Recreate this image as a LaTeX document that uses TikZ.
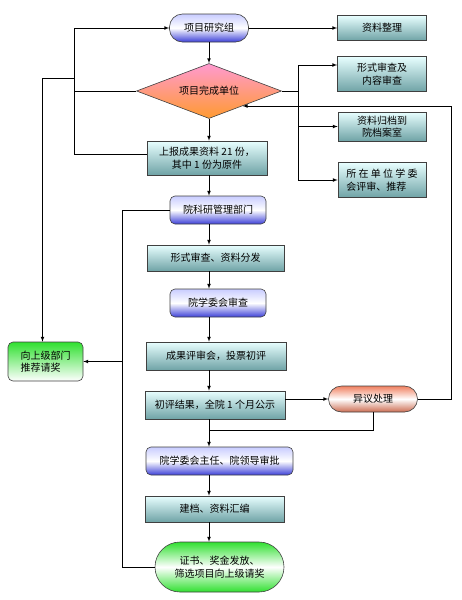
\documentclass[tikz,border=0pt]{standalone}
\usepackage{fontspec}
\setmainfont{Noto Sans CJK SC}
\usetikzlibrary{shapes.geometric}

\definecolor{boxtop}{HTML}{E8FFFF}
\definecolor{boxbot}{HTML}{6FA3A6}
\definecolor{bluetop}{HTML}{C8CCFF}
\definecolor{bluebot}{HTML}{3C40D8}
\definecolor{greenend}{HTML}{30E030}
\definecolor{salmon}{HTML}{F08060}
\definecolor{pinktop}{HTML}{FF9AD0}
\definecolor{orangebot}{HTML}{FF9A30}

\begin{document}
\begin{tikzpicture}[x=1pt, y=-1pt, font=\fontsize{10}{12.5}\selectfont,
    box/.style={draw=black!75, line width=0.6pt, top color=boxtop, bottom color=boxbot,
        inner sep=1pt, align=center},
    bluebox/.style={draw=black!75, line width=0.6pt, top color=bluetop, bottom color=bluebot,
        middle color=white, inner sep=1pt, align=center},
    decision/.style={diamond, draw=black!75, line width=0.6pt, top color=pinktop,
        bottom color=orangebot, inner sep=0pt, aspect=2.6},
    arr/.style={-latex, line width=0.7pt},
    line/.style={line width=0.7pt}]

    \useasboundingbox (0,0) rectangle (462,600);

    % top part
    \node [bluebox, rounded corners=13pt, minimum width=79, minimum height=28] (yjz) at (209,28) {项目研究组};
    \node [box, minimum width=89, minimum height=25] (zlzl) at (382,28) {资料整理};
    \node [decision, minimum width=145, minimum height=55] (xmwc) at (209,91) {项目完成单位};

    \node [box, minimum width=89, minimum height=35] (xsnr) at (382,74) {形式审查及\\内容审查};
    \node [box, minimum width=88, minimum height=29] (zlgd) at (382,126.5) {资料归档到\\院档案室};
    \node [box, minimum width=88, minimum height=35, align=left] (szdw) at (382,180) {所 在 单 位 学 委\\会评审、推荐};

    \node [box, minimum width=120, minimum height=34] (sb) at (207,158) {上报成果资料 21 份，\\其中 1 份为原件};

    % main column
    \coordinate (col) at (209,0);
    \node [bluebox, rounded corners=5pt, minimum width=96, minimum height=28] (ky) at (218,210) {院科研管理部门};
    \node [box, minimum width=137, minimum height=26] (xs) at (215.5,258) {形式审查、资料分发};
    \node [bluebox, rounded corners=5pt, minimum width=96, minimum height=28] (xwh) at (218,303) {院学委会审查};
    \node [box, minimum width=140, minimum height=28] (cg) at (216,356) {成果评审会，投票初评};
    \node [box, minimum width=140, minimum height=28] (cp) at (215,405) {初评结果，全院 1 个月公示};
    \node [draw=black!75, line width=0.6pt, rounded corners=13pt, top color=salmon,
        bottom color=salmon!85!black, middle color=white, minimum width=89, minimum height=26] (yy) at (373,399) {异议处理};
    \node [bluebox, rounded corners=5pt, minimum width=147, minimum height=28] (zr) at (219.5,461) {院学委会主任、院领导审批};
    \node [box, minimum width=139, minimum height=26] (jd) at (214.5,509) {建档、资料汇编};
    \node [draw=black!75, line width=0.6pt, rounded corners=25pt, top color=greenend,
        bottom color=greenend, middle color=white, align=center, minimum width=129,
        minimum height=50] (zs) at (219.5,567) {证书、奖金发放、\\筛选项目向上级请奖};

    % left box
    \node [draw=black!75, line width=0.6pt, rounded corners=5pt, top color=greenend,
        bottom color=white, align=left, minimum width=75, minimum height=39] (xsj) at (45.5,361.5) {向上级部门\\推荐请奖};

    % arrows of the column
    \draw[arr] (yjz) -- (zlzl);
    \draw[arr] (yjz) -- (xmwc);
    \draw[arr] (col |- xmwc.south) -- (col |- sb.north);
    \draw[arr] (col |- sb.south) -- (col |- ky.north);
    \draw[arr] (col |- ky.south) -- (col |- xs.north);
    \draw[arr] (col |- xs.south) -- (col |- xwh.north);
    \draw[arr] (col |- xwh.south) -- (col |- cg.north);
    \draw[arr] (col |- cg.south) -- (col |- cp.north);
    \draw[arr] (col |- cp.south) -- (col |- zr.north);
    \draw[arr] (col |- zr.south) -- (col |- jd.north);
    \draw[arr] (col |- jd.south) -- (col |- zs.north);

    % branch to the right boxes
    \coordinate (br) at (298,91);
    \draw[line] (xmwc.east) -- (br);
    \draw[arr] (br) |- ([yshift=9pt]xsnr.west);
    \draw[arr] (br) |- (zlgd.west);
    \draw[arr] (br) |- (szdw.west);

    % objection
    \coordinate (jn) at (209,430);
    \coordinate (fb) at (451,106);
    \draw[arr] (cp.east |- yy.west) -- (yy.west);
    \draw[line] (yy.south) |- (jn);
    \draw[arr] (yy.east) -| (fb) -- (fb -| xmwc.-24);

    % left lines
    \coordinate (lx) at (74,0);
    \coordinate (lb) at (74,78);
    \draw[arr] ([yshift=4pt]sb.west) -| (lx |- yjz.west) -- (yjz.west);
    \draw[line] (xmwc.west) -- (lx |- xmwc.west);
    \draw[arr] (lb) -| ([xshift=-3pt]xsj.north);

    \coordinate (ll) at (122,0);
    \draw[line] (zs.west) -| (ll |- ky.west) -- (ky.west);
    \draw[arr] (ll |- xsj.east) -- (xsj.east);

\end{tikzpicture}
\end{document}
